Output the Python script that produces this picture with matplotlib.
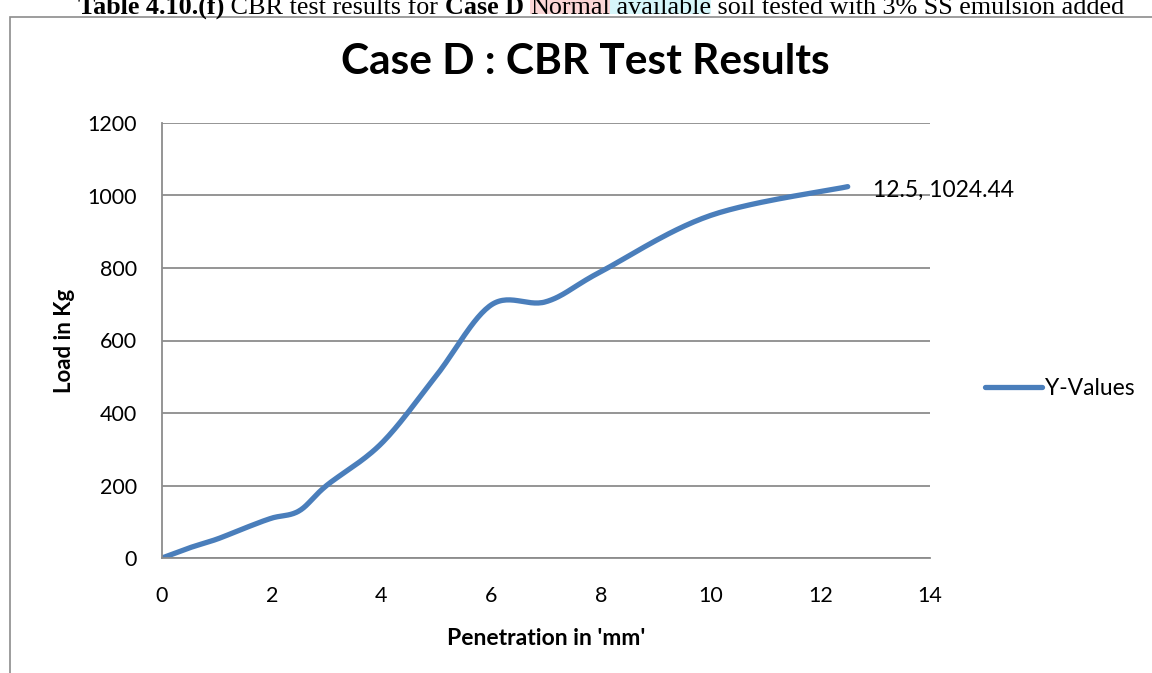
import numpy as np
import matplotlib.pyplot as plt
from matplotlib.lines import Line2D
from matplotlib.patches import Rectangle

# CBR test readings (penetration in mm, load in kg)
penetration = [0, 0.5, 1.0, 1.5, 2.0, 2.5, 3.0, 4.0, 5.0, 6.0, 7.0, 8.0, 10.0, 12.5]
load = [0, 28, 52, 82, 110, 130, 200, 316, 503, 698, 707, 790, 945, 1024.44]

x_ticks = [0, 2, 4, 6, 8, 10, 12, 14]
y_ticks = [0, 200, 400, 600, 800, 1000, 1200]

caption_parts = [
    ("Table 4.10.(f)", "bold", None),
    (" CBR test results for ", "normal", None),
    ("Case D", "bold", None),
    (" ", "normal", None),
    ("Normal", "normal", "#fbd6d6"),
    (" available", "normal", "#d6f6fa"),
    (" soil tested with 3% SS emulsion added", "normal", None),
]


def smooth(xs, ys, n=30):
    # bezier smoothing like excel "smoothed line"
    p = np.column_stack([xs, ys]).astype(float)
    p = np.vstack([p[0], p, p[-1]])
    out = []
    t = np.linspace(0, 1, n)[:, None]
    for i in range(1, len(p) - 2):
        p0, p3 = p[i], p[i + 1]
        c1 = p0 + (p[i + 1] - p[i - 1]) / 6
        c2 = p3 - (p[i + 2] - p[i]) / 6
        seg = (1 - t) ** 3 * p0 + 3 * (1 - t) ** 2 * t * c1 + 3 * (1 - t) * t ** 2 * c2 + t ** 3 * p3
        out.append(seg)
    out = np.vstack(out)
    return out[:, 0], out[:, 1]


plt.rcParams['font.family'] = ['Lato', 'DejaVu Sans']

fig = plt.figure(figsize=(11.52, 6.73), dpi=100)
W, H = 1152, 673

# outer chart frame (cut off at right and bottom)
fig.patches.append(Rectangle((10 / W, -0.1), 1.2, 1 - 17 / H + 0.1, transform=fig.transFigure,
                             fill=False, edgecolor='#8c8c8c', linewidth=1.2))

ax = fig.add_axes([162 / W, 1 - 558 / H, (930 - 162) / W, (558 - 123) / H])

sx, sy = smooth(penetration, load)
ax.plot(sx, sy, color='#4a7ebb', linewidth=3.8, solid_capstyle='round')

ax.set_xlim(0, 14)
ax.set_ylim(0, 1200)
ax.set_xticks(x_ticks)
ax.set_yticks(y_ticks)
ax.tick_params(length=0, labelsize=15.5)
ax.tick_params(axis='x', pad=20)
ax.tick_params(axis='y', pad=18)
ax.grid(axis='y', color='#8c8c8c', linewidth=1.3)
ax.set_axisbelow(True)
for s in ['top', 'right']:
    ax.spines[s].set_visible(False)
for s in ['left', 'bottom']:
    ax.spines[s].set_color('#8c8c8c')
    ax.spines[s].set_linewidth(1.3)

ax.set_xlabel("Penetration in 'mm'", fontsize=16.5, fontweight='bold', labelpad=16)
ax.set_ylabel("Load in Kg", fontsize=16, fontweight='bold', labelpad=9)

ax.annotate(f"{penetration[-1]}, {load[-1]:.2f}", xy=(penetration[-1], load[-1]),
            xytext=(18, -3), textcoords='offset points', fontsize=16.5, va='center', ha='left')

fig.text(585 / W, 1 - 62 / H, "Case D : CBR Test Results", fontsize=30.5, fontweight='bold',
         ha='center', va='center')

ax.legend([Line2D([], [], color='#4a7ebb', linewidth=3.8, solid_capstyle='round')], ['Y-Values'],
          loc='center left', bbox_to_anchor=(1.045, 0.39), frameon=False, fontsize=16.5,
          handlelength=2.5, handletextpad=0.1)

# cropped caption from the source document
fig.canvas.draw()
r = fig.canvas.get_renderer()
xpos = 78
base = 1 - 14 / H
for txt, wt, bg in caption_parts:
    t = fig.text(xpos / W, base, txt, fontsize=18.8, fontweight=wt, family='Liberation Serif',
                 ha='left', va='baseline', color='black')
    bb = t.get_window_extent(renderer=r)
    if bg:
        fig.patches.append(Rectangle((xpos / W, base), bb.width / W, 16 / H,
                                     transform=fig.transFigure, facecolor=bg, edgecolor='none', zorder=-1))
    xpos += bb.width

fig.savefig('out.png', dpi=100)
